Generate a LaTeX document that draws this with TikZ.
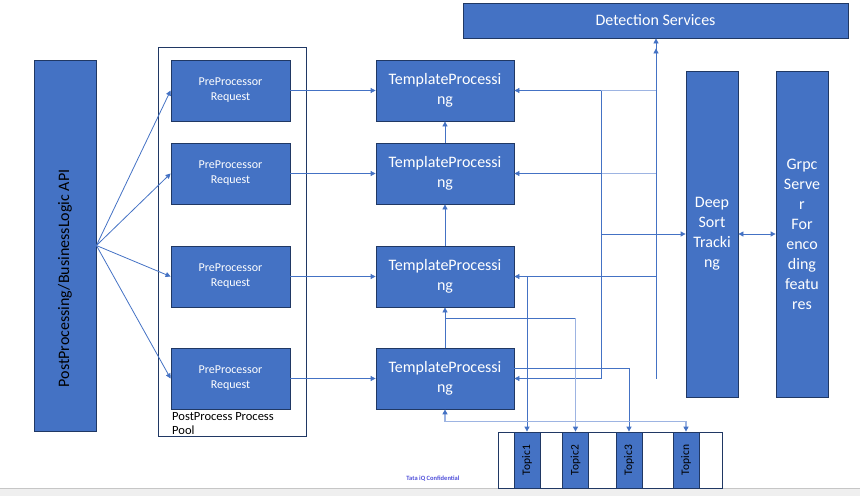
\documentclass[tikz,border=0pt]{standalone}
\usepackage{fontspec}
\setmainfont{Carlito}
\usetikzlibrary{calc}
\usetikzlibrary{arrows.meta,positioning}
\definecolor{boxblue}{HTML}{4472C4}
\definecolor{boxedge}{HTML}{203864}
\definecolor{palelink}{HTML}{9DB4E2}
\definecolor{footblue}{HTML}{4F4FD9}
\definecolor{stripgray}{HTML}{EFEFEF}

\begin{document}
\begin{tikzpicture}
    [x=1pt,y=-1pt,
     bluebox/.style={draw=boxedge,fill=boxblue,line width=0.8pt,text=white,inner sep=0pt,align=center},
     whitebox/.style={draw=boxedge,fill=white,line width=0.8pt,inner sep=0pt},
     prebox/.style={bluebox,minimum width=119pt,minimum height=61pt,font=\fontsize{12}{15}\selectfont},
     tpbox/.style={bluebox,minimum width=138pt,minimum height=61pt,font=\fontsize{16}{20}\selectfont},
     tallbox/.style={bluebox,minimum width=52pt,minimum height=326pt,font=\fontsize{16}{20}\selectfont},
     topicbox/.style={bluebox,minimum width=26pt,minimum height=56pt,text=black,font=\fontsize{11.5}{13}\selectfont},
     link/.style={boxblue,line width=0.8pt},
     pale/.style={palelink,line width=1.2pt},
     arr/.style={link,-{Triangle[width=5pt,length=5pt]}},
     palearr/.style={pale,-{Triangle[width=5pt,length=5pt,color=boxblue]}}]

    % footer strip
    \fill[stripgray] (0,488) rectangle (860,496);
    \draw[gray!45] (0,488) -- (860,488);
    \node[font=\fontsize{6.5}{8}\selectfont\bfseries,text=footblue] (footer) at (433,479) {Tata iQ Confidential};

    \node[bluebox,minimum width=62pt,minimum height=371pt,
          label={[yshift=-33pt,text=black]center:\rotatebox{90}{\fontsize{16}{19}\selectfont PostProcessing/BusinessLogic API}}] (api) at (65,245.5) {};

    \node[whitebox,minimum width=148pt,minimum height=389pt] (pool) at (232,241.5) {};
    \node[prebox] (pre1) at (230.5,90.5) {PreProcessor\\Request};
    \node[prebox] (pre2) at (230.5,173.5) {PreProcessor\\Request};
    \node[prebox] (pre3) at (230.5,276.5) {PreProcessor\\Request};
    \node[prebox] (pre4) at (230.5,378.5) {PreProcessor\\Request};
    \begin{scope}
        \clip (pool.north west) rectangle (pool.south east);
        \node[anchor=north west,inner sep=0pt,align=left,font=\fontsize{12.5}{14}\selectfont] (poollbl) at (172,412) {PostProcess Process\\Pool};
    \end{scope}

    \node[tpbox] (tp1) at (445,90.5) {TemplateProcessi\\ng};
    \node[tpbox] (tp2) at (445,173.5) {TemplateProcessi\\ng};
    \node[tpbox] (tp3) at (445,276.5) {TemplateProcessi\\ng};
    \node[tpbox] (tp4) at (445,378.5) {TemplateProcessi\\ng};

    \node[bluebox,minimum width=385pt,minimum height=35pt,font=\fontsize{16}{19}\selectfont] (det) at (655.5,20.5) {Detection Services};
    \node[tallbox] (deep) at (712,234) {Deep\\Sort\\Tracki\\ng};
    \node[tallbox] (grpc) at (802,234) {Grpc\\Serve\\r\\For\\enco\\ding\\featu\\res};

    \node[whitebox,minimum width=224pt,minimum height=56pt] (topics) at (610,460) {};
    \node[topicbox] (topic1) at (527,460) {\rotatebox{90}{Topic1}};
    \node[topicbox] (topic2) at (575.5,460) {\rotatebox{90}{Topic2}};
    \node[topicbox] (topic3) at (629,460) {\rotatebox{90}{Topic3}};
    \node[topicbox] (topicn) at (686,460) {\rotatebox{90}{Topicn}};

    % api fan out
    \draw[arr] (api.east) -- (pre1.west);
    \draw[arr] (api.east) -- (pre2.west);
    \draw[arr] (api.east) -- (pre3.west);
    \draw[arr] (api.east) -- (pre4.west);

    \draw[arr] (pre1) -- (tp1);
    \draw[arr] (pre2) -- (tp2);
    \draw[arr] (pre3) -- (tp3);
    \draw[arr] (pre4) -- (tp4);

    \draw[arr] (tp2) -- (tp1);
    \draw[arr] (tp3) -- (tp2);
    \draw[arr] (tp4) -- (tp3);

    % feedback buses
    \coordinate (busA) at (601,0);
    \coordinate (busB) at (656,0);
    \draw[pale] (tp1.east -| busB) -- (tp1.east -| busA);
    \draw[pale] (tp2.east -| busB) -- (tp2.east -| busA);
    \draw[link] (tp1.east -| busA) -- (tp4.east -| busA);
    \draw[arr] (tp1.east -| busA) -- (tp1.east);
    \draw[arr] (tp2.east -| busA) -- (tp2.east);
    \draw[arr] (tp4.east -| busA) -- (tp4.east);
    \draw[arr] (deep.west -| busA) -- (deep.west);
    \draw[arr] (tp4.east -| busB) -- (det.south -| busB);
    \draw[arr] (tp3.east -| busB) -- ($(det.south -| busB)+(0,10)$);
    \draw[arr] (tp3.east -| busB) -- (tp3.east);
    \draw[link,{Triangle[width=5pt,length=5pt]}-{Triangle[width=5pt,length=5pt]}] (deep) -- (grpc);

    % topics
    \coordinate (t2turn) at ($(tp3.south)+(0,11)$);
    \coordinate (t3turn) at ($(tp4.east)+(0,-10.5)$);
    \coordinate (tnturn) at ($(tp4.south)+(0,12)$);
    \draw[arr] (tp3.east -| topic1) -- (topic1.north);
    \draw[link] (t2turn) -- (t2turn -| topic2);
    \draw[palearr] (t2turn -| topic2) -- (topic2.north);
    \draw[arr] (t3turn) -| (topic3.north);
    \draw[pale,{Triangle[width=5pt,length=5pt,color=boxblue]}-{Triangle[width=5pt,length=5pt,color=boxblue]}] (tp4.south) -- (tnturn) -| (topicn.north);

    \pgfresetboundingbox
    \useasboundingbox (0,0) rectangle (860,496);
\end{tikzpicture}
\end{document}
